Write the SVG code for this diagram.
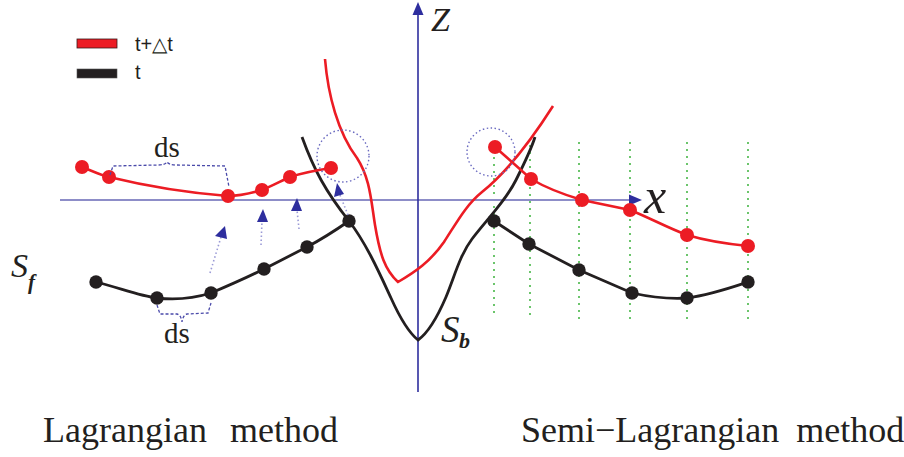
<svg xmlns="http://www.w3.org/2000/svg" width="904" height="457" viewBox="0 0 904 457">
<defs>
<style>
.rline{fill:none;stroke:#ec1c24;stroke-width:2.6}
.bline{fill:none;stroke:#231f20;stroke-width:2.8}
.rdot{fill:#ec1c24}
.bdot{fill:#231f20}
.axis{stroke:#8d8dc8;stroke-width:2.2;fill:none}
.zaxis{stroke:#2e2e9e;stroke-width:1.6;fill:none}
.head{fill:#2e2e9e}
.dotarrow{stroke:#9a9ad6;stroke-width:1.6;stroke-dasharray:1.5 2.5;fill:none}
.circ{stroke:#6a6ac0;stroke-width:1.4;stroke-dasharray:1.5 2.5;fill:none}
.brace{stroke:#4a4aaa;stroke-width:1.3;stroke-dasharray:3 2;fill:none}
.grid{stroke:#5cbf5c;stroke-width:1.8;stroke-dasharray:2 5;fill:none}
</style>
</defs>
<rect x="0" y="0" width="904" height="457" fill="#ffffff"/>

<g id="legend">
<rect x="77" y="39" width="40" height="9" fill="#ec1c24" stroke="#3a1a1a" stroke-width="0.8"/>
<text x="135" y="51" font-size="20" font-family="Liberation Sans, Arial, sans-serif" fill="#231f20">t+△t</text>
<rect x="77" y="69" width="40" height="9" fill="#231f20" stroke="#555" stroke-width="0.6"/>
<text x="135" y="79" font-size="20" font-family="Liberation Sans, Arial, sans-serif" fill="#231f20">t</text>
</g>

<g id="grid-lines">
<line class="grid" x1="494" y1="150" x2="494" y2="318"/>
<line class="grid" x1="530" y1="145" x2="530" y2="318"/>
<line class="grid" x1="579" y1="142" x2="579" y2="320"/>
<line class="grid" x1="630" y1="142" x2="630" y2="320"/>
<line class="grid" x1="687" y1="142" x2="687" y2="320"/>
<line class="grid" x1="748" y1="142" x2="748" y2="320"/>
</g>

<g id="axes">
<line class="axis" x1="60" y1="200" x2="632" y2="200"/>
<polygon class="head" points="642,200 629,194.5 629,205.5"/>
<text x="644" y="213" font-size="50" font-style="italic" font-family="Liberation Serif, Times New Roman, serif" fill="#231f20">x</text>
<line class="zaxis" x1="418" y1="12" x2="418" y2="392"/>
<polygon class="head" points="418,2 412.5,15 423.5,15"/>
<text x="431" y="31" font-size="34" font-style="italic" font-family="Liberation Serif, Times New Roman, serif" fill="#231f20">Z</text>
</g>

<g id="surface-b-t">
<path class="bline" d="M302,137 C314,170 326,192 349,221 C366,243 379,272 391,298 C400,318 408,332 418,340 C428,333 437,318 446,297 C455,275 460,255 472,239 C490,216 506,200 516,180 C525,162 531,150 535,137"/>
</g>
<g id="surface-b-tdt">
<path class="rline" d="M325,59 C328,95 338,133 357,158 C370,178 371,200 375,225 C380,255 385,270 398,282 C415,272 430,262 444,242 C457,222 466,205 482,192 C502,176 525,150 553,106"/>
</g>
<text x="441" y="342" font-size="37" font-style="italic" font-family="Liberation Serif, Times New Roman, serif" fill="#231f20">S</text>
<text x="459" y="348" font-size="22" font-style="italic" font-weight="bold" font-family="Liberation Serif, Times New Roman, serif" fill="#231f20">b</text>

<g id="lagrangian-t">
<path class="bline" d="M96,282 C120,288 140,296 157,298 C175,300 195,298 211,293 C230,285 248,277 264,269 C280,261 293,254 307,247 C322,239 336,230 349,221"/>
<circle class="bdot" cx="96" cy="282" r="6.7"/>
<circle class="bdot" cx="157" cy="298" r="6.7"/>
<circle class="bdot" cx="211" cy="293" r="6.7"/>
<circle class="bdot" cx="264" cy="269" r="6.7"/>
<circle class="bdot" cx="307" cy="247" r="6.7"/>
<circle class="bdot" cx="349" cy="221" r="6.7"/>
</g>
<text x="11" y="277" font-size="34" font-style="italic" font-family="Liberation Serif, Times New Roman, serif" fill="#231f20">S</text>
<text x="28" y="289" font-size="21" font-style="italic" font-weight="bold" font-family="Liberation Serif, Times New Roman, serif" fill="#231f20">f</text>

<g id="lagrangian-tdt">
<path class="rline" d="M82,167 C92,171 100,175 109,177 C150,187 190,193 228,196 C240,196 252,193 262,190 C272,186 281,181 290,177 C305,172 318,170 331,168"/>
<circle class="rdot" cx="82" cy="167" r="7"/>
<circle class="rdot" cx="109" cy="177" r="7"/>
<circle class="rdot" cx="228" cy="196" r="7"/>
<circle class="rdot" cx="262" cy="190" r="7"/>
<circle class="rdot" cx="290" cy="177" r="7"/>
<circle class="rdot" cx="331" cy="168" r="7"/>
</g>

<g id="semi-t">
<path class="bline" d="M494,221 L529,244 L579,270 L632,293 C650,297 670,299 687,298 C710,295 730,288 748,282"/>
<circle class="bdot" cx="494" cy="221" r="6.7"/>
<circle class="bdot" cx="529" cy="244" r="6.7"/>
<circle class="bdot" cx="579" cy="270" r="6.7"/>
<circle class="bdot" cx="632" cy="293" r="6.7"/>
<circle class="bdot" cx="687" cy="298" r="6.7"/>
<circle class="bdot" cx="748" cy="282" r="6.7"/>
</g>

<g id="semi-tdt">
<path class="rline" d="M495,147 L531,179 C548,189 565,195 582,200 L630,210 C650,218 668,228 687,235 C707,241 728,244 748,246"/>
<circle class="rdot" cx="495" cy="147" r="7"/>
<circle class="rdot" cx="531" cy="179" r="7"/>
<circle class="rdot" cx="582" cy="200" r="7"/>
<circle class="rdot" cx="630" cy="210" r="7"/>
<circle class="rdot" cx="687" cy="235" r="7"/>
<circle class="rdot" cx="748" cy="246" r="7"/>
</g>

<g id="circles">
<circle class="circ" cx="343" cy="156" r="26"/>
<circle class="circ" cx="491" cy="152" r="24"/>
</g>

<g id="connectors">
<line class="dotarrow" x1="210" y1="273" x2="221" y2="237"/>
<polygon class="head" points="225,226 215,236 227,239"/>
<line class="dotarrow" x1="261" y1="245" x2="262" y2="221"/>
<polygon class="head" points="263,209 257,222 268,222"/>
<line class="dotarrow" x1="299" y1="229" x2="297" y2="210"/>
<polygon class="head" points="297,198 291,211 302,211"/>
<line class="dotarrow" x1="348" y1="215" x2="340" y2="195"/>
<polygon class="head" points="337,183 334,197 344,194"/>
</g>

<g id="braces">
<path class="brace" d="M110,175 L113,166 L158,165 Q165,165 167,162 Q169,165 176,165 L225,166 L229,187"/>
<path class="brace" d="M157,305 L160,314 L177,314 Q181,315 182,322 Q183,315 187,314 L208,313 L211,303"/>
<text x="154" y="157" font-size="29" font-family="Liberation Serif, Times New Roman, serif" fill="#231f20">ds</text>
<text x="164" y="343" font-size="29" font-family="Liberation Serif, Times New Roman, serif" fill="#231f20">ds</text>
</g>

<g id="captions">
<text x="43" y="442" font-size="36" word-spacing="14" font-family="Liberation Serif, Times New Roman, serif" fill="#231f20">Lagrangian method</text>
<text x="521" y="442" font-size="36" word-spacing="8" font-family="Liberation Serif, Times New Roman, serif" fill="#231f20">Semi−Lagrangian method</text>
</g>
</svg>
